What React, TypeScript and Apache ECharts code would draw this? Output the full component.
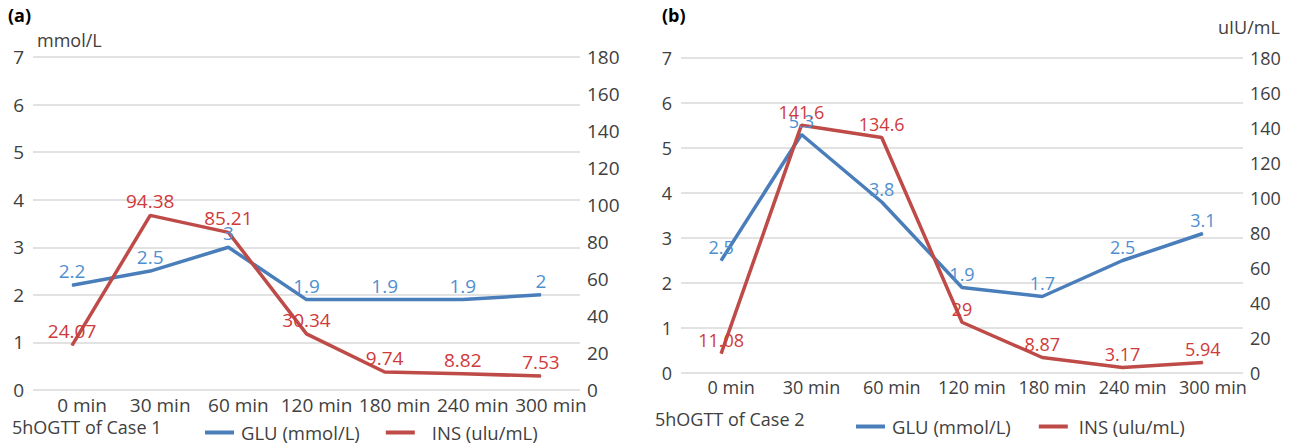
import React, { useEffect, useRef } from "react";
import * as echarts from "echarts";

const categories = ["0 min", "30 min", "60 min", "120 min", "180 min", "240 min", "300 min"];
const gluA = [2.2, 2.5, 3, 1.9, 1.9, 1.9, 2];
const insA = [24.07, 94.38, 85.21, 30.34, 9.74, 8.82, 7.53];
const gluB = [2.5, 5.3, 3.8, 1.9, 1.7, 2.5, 3.1];
const insB = [11.08, 141.6, 134.6, 29, 8.87, 3.17, 5.94];
const gluAxis = { min: 0, max: 7, interval: 1 };
const insAxis = { min: 0, max: 180, interval: 20 };
const gluName = "GLU (mmol/L)";
const insName = "INS (ulu/mL)";

const FONT = "'Open Sans', 'Noto Sans', sans-serif";
const BLUE = "#4a7ebb";
const RED = "#be4b48";
const BLUE_LBL = "#4f8fcf";
const RED_LBL = "#cf3a3a";
const TXT = "#404040";

export default function App() {
  const ref = useRef<HTMLDivElement>(null);
  useEffect(() => {
    if (!ref.current) return;
    const chart = echarts.init(ref.current, null, { renderer: "svg" });
    const fs = [19, 18];
    const xAxisBase = (gridIndex: number) => ({
      type: "category",
      gridIndex,
      data: categories,
      boundaryGap: true,
      axisLine: { show: false },
      axisTick: { show: false },
      axisLabel: {
        interval: 0,
        color: TXT,
        fontSize: fs[gridIndex],
        fontFamily: FONT,
        margin: 5,
        padding: [0, 0, 0, 20],
      },
    });
    const leftY = (gridIndex: number) => ({
      type: "value",
      gridIndex,
      ...gluAxis,
      position: "left",
      axisLine: { show: false },
      axisTick: { show: false },
      axisLabel: { color: TXT, fontSize: fs[gridIndex], fontFamily: FONT, margin: 9 },
      splitLine: { show: true, lineStyle: { color: "#d9d9d9", width: 1.5 } },
    });
    const rightY = (gridIndex: number) => ({
      type: "value",
      gridIndex,
      ...insAxis,
      position: "right",
      axisLine: { show: false },
      axisTick: { show: false },
      axisLabel: { color: TXT, fontSize: fs[gridIndex], fontFamily: FONT, margin: 7 },
      splitLine: { show: false },
    });
    const lineSeries = (
      name: string,
      data: number[],
      gi: number,
      yi: number,
      color: string,
      lbl: string
    ) => ({
      type: "line",
      name,
      data,
      xAxisIndex: gi,
      yAxisIndex: yi,
      symbol: "circle",
      symbolSize: 1,
      showSymbol: true,
      lineStyle: { color, width: 3.5 },
      itemStyle: { color },
      label: {
        show: true,
        position: "top",
        distance: 4,
        color: lbl,
        fontSize: fs[gi],
        fontFamily: FONT,
      },
      labelLayout: { hideOverlap: false },
    });
    const legendBase = (
      left: number,
      top: number,
      gap: number,
      size: number,
      insPad: number
    ) => ({
      left,
      top,
      orient: "horizontal",
      icon: "rect",
      itemWidth: 29,
      itemHeight: 4,
      itemGap: gap,
      textStyle: { color: TXT, fontSize: size, fontFamily: FONT, padding: [0, 0, 0, 2] },
      data: [
        { name: gluName, itemStyle: { color: BLUE } },
        {
          name: insName,
          itemStyle: { color: RED },
          textStyle: { color: TXT, fontSize: size, fontFamily: FONT, padding: [0, 0, 0, insPad] },
        },
      ],
    });
    const txt = (text: string, x: number, y: number, size: number, bold = false) => ({
      type: "text",
      left: x,
      top: y,
      style: {
        text,
        fill: bold ? "#000" : TXT,
        font: `${bold ? "bold " : ""}${size}px ${FONT}`,
      },
    });
    chart.setOption({
      animation: false,
      grid: [
        { left: 33, right: 712, top: 57, bottom: 54 },
        { left: 681, right: 49, top: 58, bottom: 71 },
      ],
      xAxis: [xAxisBase(0), xAxisBase(1)],
      yAxis: [leftY(0), rightY(0), leftY(1), rightY(1)],
      legend: [legendBase(200, 418, 26, 18.5, 12), legendBase(851, 412, 28, 18.5, 6)],
      series: [
        lineSeries(gluName, gluA, 0, 0, BLUE, BLUE_LBL),
        lineSeries(insName, insA, 0, 1, RED, RED_LBL),
        lineSeries(gluName, gluB, 1, 2, BLUE, BLUE_LBL),
        lineSeries(insName, insB, 1, 3, RED, RED_LBL),
      ],
      graphic: [
        txt("(a)", 8, 6, 18, true),
        txt("mmol/L", 37, 31, 18),
        txt("(b)", 662, 6, 18, true),
        txt("uIU/mL", 1218, 18, 18),
        txt("5hOGTT of Case 1", 12, 418, 18),
        txt("5hOGTT of Case 2", 655, 410, 18),
      ],
    });
    return () => chart.dispose();
  }, []);
  return (
    <div
      ref={ref}
      style={{ position: "fixed", left: 0, top: 0, width: 1292, height: 444, background: "#fff" }}
    />
  );
}
